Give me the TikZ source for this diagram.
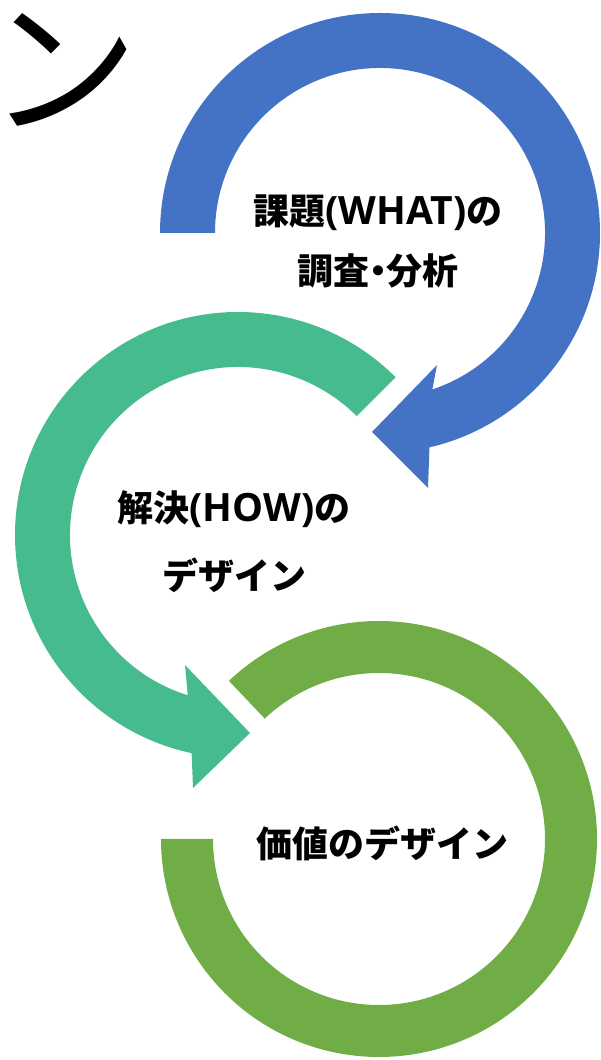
\documentclass[tikz,border=0pt]{standalone}
\usepackage{fontspec}
\newfontfamily\jpfont{Noto Sans CJK JP}
\newfontfamily\latfont{Open Sans}
\newcommand{\lat}[1]{{\latfont\bfseries\fontsize{39}{60}\selectfont #1}}
\newcommand{\nakaguro}{\hspace{-0.27em}・\hspace{-0.27em}}
\usetikzlibrary{calc}
\definecolor{arrowblue}{RGB}{68,114,196}
\definecolor{arrowteal}{RGB}{69,187,142}
\definecolor{arrowolive}{RGB}{112,173,71}
\begin{document}
\begin{tikzpicture}[x=1pt, y=1pt,
		txt/.style={font=\jpfont\bfseries\fontsize{36}{60}\selectfont, align=center, inner sep=0pt}]
			\useasboundingbox (0,0) rectangle (600,1060);
			\clip (0,0) rectangle (600,1060);
			\coordinate (B) at (380,827);
			\coordinate (G) at (238,525);
			\coordinate (O) at (379,221);
			% blue arrow
			\fill[arrowblue] ($(B)+(180:220)$) arc[start angle=180, end angle=-77, radius=220] -- (428,572) -- (372,628) -- (437,695) -- ($(B)+(-71.5:165)$) arc[start angle=-71.5, end angle=180, radius=165] -- cycle;
			% green arrow
			\fill[arrowteal] ($(G)+(45:223)$) arc[start angle=45, end angle=258, radius=223] -- (193,272) -- (250,327) -- (185,395) -- ($(G)+(252.6:168)$) arc[start angle=252.6, end angle=45, radius=168] -- cycle;
			% olive ring
			\fill[arrowolive] ($(O)+(133.5:218)$) arc[start angle=133.5, end angle=-180, radius=218] -- ($(O)+(180:166)$) arc[start angle=-180, end angle=133.5, radius=166] -- cycle;
			\node[txt] (what) at (378,819) {課題\lat{(WHAT)}の\\調査\nakaguro 分析};
			\node[txt, font=\jpfont\bfseries\fontsize{36}{68}\selectfont] (how) at (234,518) {解決\lat{(HOW)}の\\デザイン};
			\node[txt] (value) at (382,217) {価値のデザイン};
			\node[font=\jpfont\fontsize{150}{150}\selectfont, inner sep=0pt] (kana) at (64,990) {ン};
		\end{tikzpicture}
\end{document}
